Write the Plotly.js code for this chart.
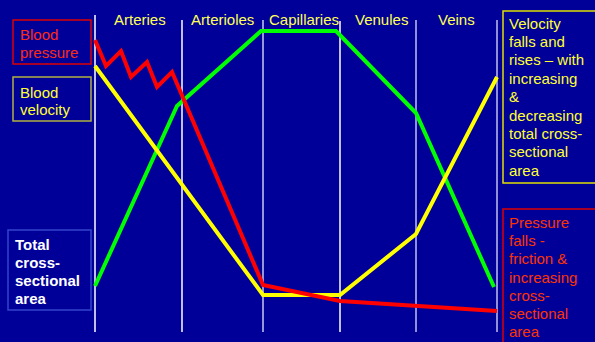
<!DOCTYPE html>
<html>
<head>
<meta charset="utf-8">
<script src="https://cdn.plot.ly/plotly-3.0.1.min.js"></script>
<style>html,body{margin:0;padding:0;background:#000099;}#chart{width:595px;height:342px;}</style>
</head>
<body>
<div id="chart"></div>
<script>
// Vessel segments along the circulation (x in distance units, level in relative units)
const vessels = ["Arteries", "Arterioles", "Capillaries", "Venules", "Veins"];
const vesselCenters = [140, 222, 304, 381, 456];
const boundaries = [95, 182, 263, 340, 416, 497];

// Blood pressure (falls with pulsatile oscillation in arteries)
const pressureX = [95, 106, 121, 131, 147, 157, 172, 263, 340, 497];
const pressureLevel = [302, 276, 291, 265, 280, 255, 270, 57, 41, 31];

// Blood velocity
const velocityX = [95, 263, 340, 416, 497];
const velocityLevel = [276, 47, 47, 108, 265];

// Total cross-sectional area
const areaX = [95, 177, 261, 336, 416, 494];
const areaLevel = [56, 236, 311, 311, 229, 55];

const H = 342;
const Y = py => H - py;

const traces = [
  {x: areaX, y: areaLevel, mode: "lines", line: {color: "#00ff00", width: 4}, hoverinfo: "skip"},
  {x: velocityX, y: velocityLevel, mode: "lines", line: {color: "#ffff00", width: 4}, hoverinfo: "skip"},
  {x: pressureX, y: pressureLevel, mode: "lines", line: {color: "#ff0000", width: 4}, hoverinfo: "skip"}
];

const lineTops = [15, 20, 20, 21, 20, 20];
const lineColors = ["#ffffff", "#ffffff", "#c8c8f0", "#ffffff", "#c0c0ee", "#c0c0ee"];
const shapes = boundaries.map((b, i) => ({
  type: "line", xref: "x", yref: "y", x0: b, x1: b, y0: Y(332), y1: Y(lineTops[i]),
  line: {color: lineColors[i], width: 1.5}, layer: "below"
}));

function box(x0, y0, x1, y1, color) {
  return {type: "rect", xref: "x", yref: "y", x0: x0, x1: x1, y0: Y(y1), y1: Y(y0),
    line: {color: color, width: 1.5}, fillcolor: "rgba(0,0,0,0)", layer: "below"};
}
shapes.push(box(13, 20, 91, 64, "#dd0000"));
shapes.push(box(13, 77, 91, 121, "#b0b040"));
shapes.push(box(8, 230, 91, 310, "#3344cc"));
shapes.push(box(503, 11, 620, 183, "#e0e000"));
shapes.push(box(503, 209, 620, 360, "#dd0000"));

const annotations = [];
vessels.forEach((v, i) => {
  annotations.push({x: vesselCenters[i], y: Y(19), xref: "x", yref: "y", text: v, showarrow: false,
    xanchor: "center", yanchor: "middle", font: {family: "Liberation Sans, Arial, sans-serif", size: 15, color: "#ffff55"}});
});

function textBlock(lines, xLeft, firstBaseline, spacing, color, bold) {
  lines.forEach((t, i) => {
    annotations.push({x: xLeft, y: Y(firstBaseline + i * spacing - 5), xref: "x", yref: "y",
      text: bold ? "<b>" + t + "</b>" : t, showarrow: false, xanchor: "left", yanchor: "middle",
      borderpad: 0, font: {family: "Liberation Sans, Arial, sans-serif", size: 15, color: color}});
  });
}
textBlock(["Blood", "pressure"], 19, 39, 18, "#ff2a10", false);
textBlock(["Blood", "velocity"], 19, 97, 17, "#ffff33", false);
textBlock(["Total", "cross-", "sectional", "area"], 14, 249, 18, "#ffffff", true);
textBlock(["Velocity", "falls and", "rises \u2013 with", "increasing", "&", "decreasing", "total cross-", "sectional", "area"], 508, 28, 18.4, "#ffff33", false);
textBlock(["Pressure", "falls -", "friction &", "increasing", "cross-", "sectional", "area"], 508, 227.5, 18.2, "#ff3300", false);

const layout = {
  width: 595, height: 342,
  margin: {l: 0, r: 0, t: 0, b: 0},
  paper_bgcolor: "#000099", plot_bgcolor: "#000099",
  showlegend: false,
  xaxis: {range: [0, 595], visible: false, fixedrange: true},
  yaxis: {range: [0, 342], visible: false, fixedrange: true},
  shapes: shapes,
  annotations: annotations
};

Plotly.newPlot("chart", traces, layout, {staticPlot: true, displayModeBar: false});
</script>
</body>
</html>
